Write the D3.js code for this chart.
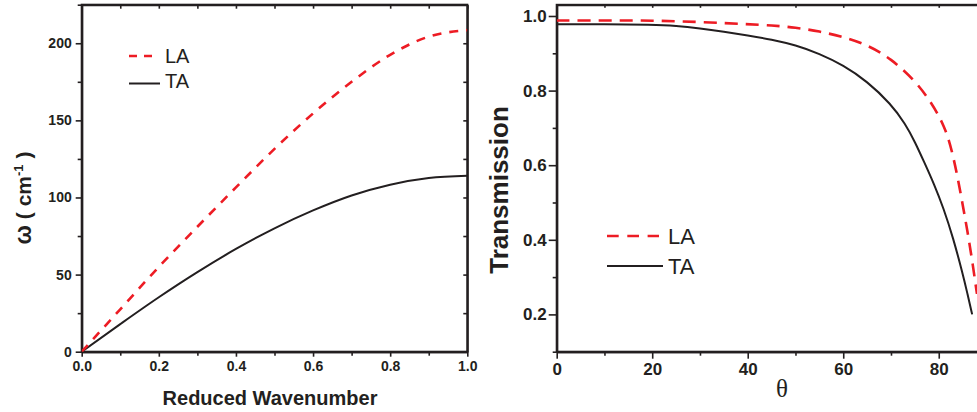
<!DOCTYPE html>
<html>
<head>
<meta charset="utf-8">
<script src="https://cdn.jsdelivr.net/npm/d3@7/dist/d3.min.js"></script>
<style>
  html, body { margin: 0; padding: 0; background: #fff; }
  svg { display: block; }
  .axis path, .axis line { stroke: #231f20; }
  .axis text { fill: #231f20; font-family: "Liberation Sans", Arial, sans-serif; font-weight: bold; }
</style>
</head>
<body>
<svg id="chart" width="977" height="412"></svg>
<script>
// Dispersion of acoustic phonons (left panel)
const wavenumber = [0, 0.1, 0.2, 0.3, 0.4, 0.5, 0.6, 0.7, 0.8, 0.9, 1.0];
const omegaLA = [0, 27.5, 55, 81, 106.5, 131.5, 154.5, 175, 192.5, 204.3, 208.5];
const omegaTA = [0, 17.9, 35.3, 51.6, 66.6, 80.0, 91.6, 101.3, 108.3, 112.6, 114.1];

// Transmission versus incidence angle (right panel)
const thetaLA = [0, 10, 20, 30, 40, 45, 50, 55, 60, 65, 70, 75, 78, 80, 81, 82, 83, 84, 85, 86, 87, 88];
const transLA = [0.988, 0.988, 0.988, 0.984, 0.978, 0.975, 0.969, 0.959, 0.944, 0.923, 0.886, 0.827, 0.776, 0.733, 0.706, 0.674, 0.625, 0.565, 0.495, 0.424, 0.345, 0.255];
const thetaTA = [0, 10, 20, 25, 30, 35, 40, 45, 50, 55, 60, 65, 70, 73, 75, 77, 79, 81, 83, 85, 86, 87];
const transTA = [0.978, 0.978, 0.977, 0.974, 0.967, 0.958, 0.948, 0.937, 0.922, 0.899, 0.868, 0.825, 0.764, 0.711, 0.663, 0.607, 0.550, 0.485, 0.406, 0.310, 0.256, 0.2];

// Tick values
const leftXMajor = [0, 0.2, 0.4, 0.6, 0.8, 1.0];
const leftXMinor = [0.1, 0.3, 0.5, 0.7, 0.9];
const leftYMajor = [0, 50, 100, 150, 200];
const leftYMinor = [25, 75, 125, 175, 225];
const rightXMajor = [0, 20, 40, 60, 80];
const rightXMinor = [10, 30, 50, 70, 90];
const rightYMajor = [0.2, 0.4, 0.6, 0.8, 1.0];
const rightYMinor = [0.1, 0.3, 0.5, 0.7, 0.9];

const RED = "#ed1c24", INK = "#231f20";
const svg = d3.select("#chart");

// ---------- left panel ----------
const xL = d3.scaleLinear().domain([0, 1]).range([81.7, 467.3]);
const yL = d3.scaleLinear().domain([0, 225]).range([351.7, 4.7]);

function styleAxis(g, fontSize) {
  g.attr("class", "axis");
  g.selectAll("path").attr("stroke-width", 2);
  g.selectAll("line").attr("stroke-width", 1.6);
  g.selectAll("text").style("font-size", fontSize + "px");
}

const gL = svg.append("g");
// frame
gL.append("rect").attr("x", xL(0)).attr("y", yL(225))
  .attr("width", xL(1) - xL(0)).attr("height", yL(0) - yL(225))
  .attr("fill", "none").attr("stroke", INK).attr("stroke-width", 2);

gL.append("g").attr("transform", `translate(0,${yL(0)})`)
  .call(d3.axisBottom(xL).tickValues(leftXMajor).tickSize(5).tickSizeOuter(0).tickPadding(4).tickFormat(d3.format(".1f")))
  .call(g => styleAxis(g, 14));
gL.append("g").attr("transform", `translate(0,${yL(0)})`)
  .call(d3.axisBottom(xL).tickValues(leftXMinor).tickSize(4).tickSizeOuter(0).tickFormat(""))
  .call(g => styleAxis(g, 14));
gL.append("g").attr("transform", `translate(0,${yL(225)})`)
  .call(d3.axisTop(xL).tickValues(leftXMajor.concat(leftXMinor)).tickSize(-4).tickSizeOuter(0).tickFormat(""))
  .call(g => styleAxis(g, 14));
gL.append("g").attr("transform", `translate(${xL(0)},0)`)
  .call(d3.axisLeft(yL).tickValues(leftYMajor).tickSize(6).tickSizeOuter(0).tickPadding(4))
  .call(g => styleAxis(g, 14));
gL.append("g").attr("transform", `translate(${xL(0)},0)`)
  .call(d3.axisLeft(yL).tickValues(leftYMinor).tickSize(4).tickSizeOuter(0).tickFormat(""))
  .call(g => styleAxis(g, 14));
gL.append("g").attr("transform", `translate(${xL(1)},0)`)
  .call(d3.axisRight(yL).tickValues(leftYMajor.concat(leftYMinor)).tickSize(-4).tickSizeOuter(0).tickFormat(""))
  .call(g => styleAxis(g, 14));

svg.append("clipPath").attr("id", "clipL").append("rect")
  .attr("x", xL(0)).attr("y", yL(225)).attr("width", xL(1) - xL(0)).attr("height", yL(0) - yL(225));

const lineL = d3.line().curve(d3.curveMonotoneX).x(d => xL(d[0])).y(d => yL(d[1]));
gL.append("path").attr("clip-path", "url(#clipL)")
  .attr("d", lineL(d3.zip(wavenumber, omegaTA)))
  .attr("fill", "none").attr("stroke", INK).attr("stroke-width", 2);
gL.append("path").attr("clip-path", "url(#clipL)")
  .attr("d", lineL(d3.zip(wavenumber, omegaLA)))
  .attr("fill", "none").attr("stroke", RED).attr("stroke-width", 2.6).attr("stroke-dasharray", "9,8");

// axis titles
gL.append("text").attr("x", 270).attr("y", 405).attr("text-anchor", "middle")
  .style("font-family", "'Liberation Sans', Arial, sans-serif").style("font-weight", "bold")
  .style("font-size", "20px").attr("fill", INK).text("Reduced Wavenumber");
const yt = gL.append("text").attr("transform", "translate(31,198) rotate(-90)").attr("text-anchor", "middle")
  .style("font-family", "'Liberation Sans', Arial, sans-serif").style("font-weight", "bold")
  .style("font-size", "21px").attr("fill", INK);
yt.append("tspan").style("font-size", "23px").text("ω");
yt.append("tspan").text(" ( cm");
yt.append("tspan").attr("dy", -8).style("font-size", "13px").text("-1");
yt.append("tspan").attr("dy", 8).text(" )");

// legend
const legL = gL.append("g");
legL.append("line").attr("x1", 129).attr("x2", 152).attr("y1", 56).attr("y2", 56)
  .attr("stroke", RED).attr("stroke-width", 2.4).attr("stroke-dasharray", "8,7");
legL.append("line").attr("x1", 129).attr("x2", 160).attr("y1", 83.5).attr("y2", 83.5)
  .attr("stroke", INK).attr("stroke-width", 2);
legL.selectAll("text.lg").data(["LA", "TA"]).join("text").attr("class", "lg")
  .attr("x", 165).attr("y", (d, i) => 62.5 + i * 25)
  .style("font-family", "'Liberation Sans', Arial, sans-serif").style("font-size", "20px")
  .attr("fill", INK).text(d => d);

// ---------- right panel ----------
const xR = d3.scaleLinear().domain([0, 90]).range([556.7, 986.5]);
const yR = d3.scaleLinear().domain([0.1, 1.03]).range([351.7, 4.8]);

const gR = svg.append("g");
gR.append("rect").attr("x", xR(0)).attr("y", yR(1.03))
  .attr("width", xR(90) - xR(0)).attr("height", yR(0.1) - yR(1.03))
  .attr("fill", "none").attr("stroke", INK).attr("stroke-width", 2);

gR.append("g").attr("transform", `translate(0,${yR(0.1)})`)
  .call(d3.axisBottom(xR).tickValues(rightXMajor).tickSize(7).tickSizeOuter(0).tickPadding(4))
  .call(g => styleAxis(g, 17));
gR.append("g").attr("transform", `translate(0,${yR(0.1)})`)
  .call(d3.axisBottom(xR).tickValues(rightXMinor).tickSize(4).tickSizeOuter(0).tickFormat(""))
  .call(g => styleAxis(g, 17));
gR.append("g").attr("transform", `translate(0,${yR(1.03)})`)
  .call(d3.axisTop(xR).tickValues(rightXMajor.concat(rightXMinor)).tickSize(-3).tickSizeOuter(0).tickFormat(""))
  .call(g => styleAxis(g, 17));
gR.append("g").attr("transform", `translate(${xR(0)},0)`)
  .call(d3.axisLeft(yR).tickValues(rightYMajor).tickSize(8).tickSizeOuter(0).tickPadding(2).tickFormat(d3.format(".1f")))
  .call(g => styleAxis(g, 17));
gR.append("g").attr("transform", `translate(${xR(0)},0)`)
  .call(d3.axisLeft(yR).tickValues(rightYMinor).tickSize(4).tickSizeOuter(0).tickFormat(""))
  .call(g => styleAxis(g, 17));

svg.append("clipPath").attr("id", "clipR").append("rect")
  .attr("x", xR(0)).attr("y", yR(1.03)).attr("width", xR(90) - xR(0)).attr("height", yR(0.1) - yR(1.03));

// B-spline through the sampled transmission values keeps the curves smooth
const lineR = d3.line().curve(d3.curveBasis).x(d => xR(d[0])).y(d => yR(d[1]));
gR.append("path").attr("clip-path", "url(#clipR)")
  .attr("d", lineR(d3.zip(thetaTA, transTA)))
  .attr("fill", "none").attr("stroke", INK).attr("stroke-width", 2);
gR.append("path").attr("clip-path", "url(#clipR)")
  .attr("d", lineR(d3.zip(thetaLA, transLA)))
  .attr("fill", "none").attr("stroke", RED).attr("stroke-width", 2.6).attr("stroke-dasharray", "13,8");

gR.append("text").attr("x", 782).attr("y", 397).attr("text-anchor", "middle")
  .style("font-family", "'Liberation Serif', 'Times New Roman', serif")
  .style("font-size", "25px").attr("fill", INK).text("θ");
gR.append("text").attr("transform", "translate(508,190) rotate(-90)").attr("text-anchor", "middle")
  .style("font-family", "'Liberation Sans', Arial, sans-serif").style("font-weight", "bold")
  .style("font-size", "26px").attr("fill", INK).text("Transmission");

const legR = gR.append("g");
legR.append("line").attr("x1", 607).attr("x2", 659).attr("y1", 236).attr("y2", 236)
  .attr("stroke", RED).attr("stroke-width", 2.4).attr("stroke-dasharray", "11.7,8.6");
legR.append("line").attr("x1", 607).attr("x2", 663).attr("y1", 266).attr("y2", 266)
  .attr("stroke", INK).attr("stroke-width", 2);
legR.selectAll("text.lg").data(["LA", "TA"]).join("text").attr("class", "lg")
  .attr("x", 668).attr("y", (d, i) => 244 + i * 30)
  .style("font-family", "'Liberation Sans', Arial, sans-serif").style("font-size", "22px")
  .attr("fill", INK).text(d => d);
</script>
</body>
</html>
